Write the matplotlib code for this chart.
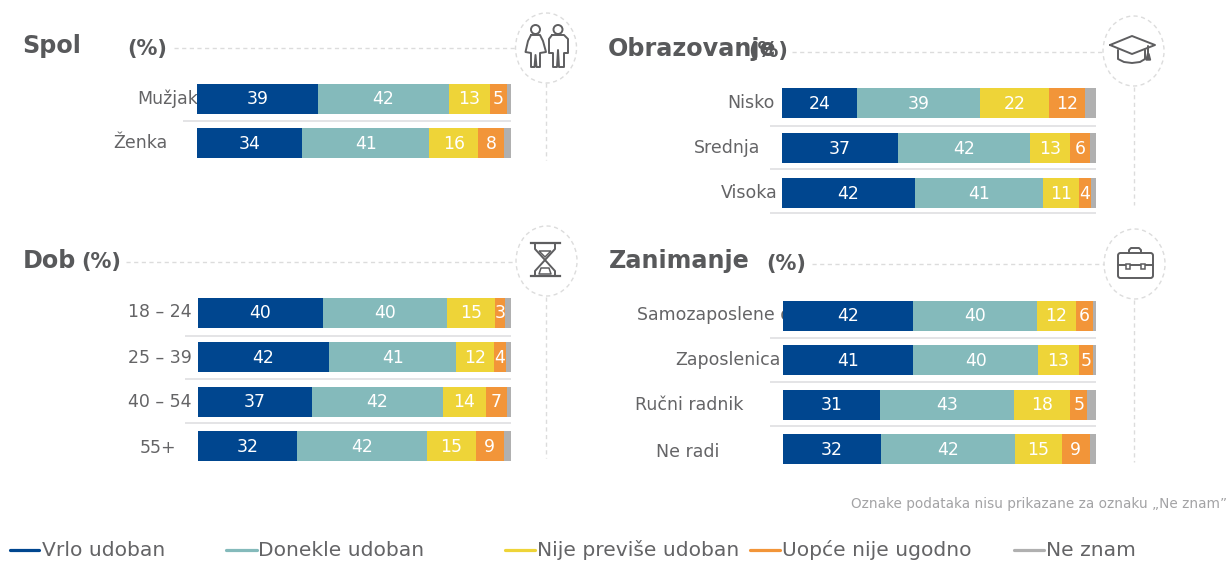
import matplotlib
matplotlib.use("Agg")
import matplotlib.pyplot as plt
from matplotlib.patches import Circle, Ellipse, Polygon, FancyBboxPatch, Arc, Rectangle

W, H = 1227, 561
series = ["Vrlo udoban", "Donekle udoban", "Nije previše udoban", "Uopće nije ugodno", "Ne znam"]
colors = ["#00468F", "#84BABB", "#EED438", "#F29539", "#B0B0B0"]

spol_cats = ["Mužjak", "Ženka"]
spol_vals = [[38.5, 41.8, 12.9, 5.4, 1.4], [33.5, 40.5, 15.6, 8.3, 2.1]]
spol_labs = [[39, 42, 13, 5], [34, 41, 16, 8]]
obr_cats = ["Nisko", "Srednja", "Visoka"]
obr_vals = [[23.9, 39.3, 21.9, 11.7, 3.2], [36.9, 42.1, 13.0, 6.2, 1.8], [42.3, 41.1, 11.2, 4.1, 1.3]]
obr_labs = [[24, 39, 22, 12], [37, 42, 13, 6], [42, 41, 11, 4]]
dob_cats = ["18 – 24", "25 – 39", "40 – 54", "55+"]
dob_vals = [[40.0, 39.5, 15.5, 3.2, 1.8], [42.0, 40.5, 12.0, 3.8, 1.7], [36.5, 41.7, 13.9, 6.6, 1.3], [31.7, 41.5, 15.5, 9.0, 2.3]]
dob_labs = [[40, 40, 15, 3], [42, 41, 12, 4], [37, 42, 14, 7], [32, 42, 15, 9]]
zan_cats = ["Samozaposlene o", "Zaposlenica", "Ručni radnik", "Ne radi"]
zan_vals = [[41.5, 39.7, 12.3, 5.6, 0.9], [41.5, 40.1, 12.9, 4.6, 0.9], [30.9, 42.8, 18.1, 5.3, 2.9], [31.4, 42.7, 14.9, 9.1, 1.9]]
zan_labs = [[42, 40, 12, 6], [41, 40, 13, 5], [31, 43, 18, 5], [32, 42, 15, 9]]

TXT = "#646466"
DASH = "#DCDCDC"
ICON = "#5E5E60"
plt.rcParams["font.family"] = ["DejaVu Sans"]

fig = plt.figure(figsize=(W / 100, H / 100), dpi=100, facecolor="white")
bg = fig.add_axes([0, 0, 1, 1], zorder=0)
bg.set_xlim(0, W); bg.set_ylim(H, 0); bg.axis("off")


def panel(cats, vals, labs, x0, x1, ys, label_x, label_dy, sep_x0, seps):
    barh = 30.0
    step = ys[1] - ys[0]
    top = ys[0] - step / 2
    n = len(cats)
    ax = fig.add_axes([x0 / W, 1 - (top + step * n) / H, (x1 - x0) / W, step * n / H], zorder=2)
    ax.patch.set_alpha(0)
    ax.axis("off")
    ax.set_xlim(0, 100)
    ax.set_ylim(n - 0.5, -0.5)
    hfrac = barh / step
    for i, row in enumerate(vals):
        left = 0
        for j, v in enumerate(row):
            ax.barh(i, v, left=left, height=hfrac, color=colors[j], linewidth=0)
            if j < len(labs[i]):
                ax.text(left + v / 2, i + 0.02, str(labs[i][j]), color="white", fontsize=12.4,
                        ha="center", va="center")
            left += v
    for c, lx, y, dy in zip(cats, label_x, ys, label_dy):
        bg.text(lx, y + dy, c, color=TXT, fontsize=12.55, ha="right", va="center")
    for y in seps:
        bg.plot([sep_x0, x1], [y, y], color="#E2E2E4", lw=1.3, solid_capstyle="butt")


panel(spol_cats, spol_vals, spol_labs, 197, 511, [98.5, 143], [198, 167], [0, 0], 183, [121])
panel(obr_cats, obr_vals, obr_labs, 782, 1095.5, [103, 148, 192], [775, 760, 778], [0, 0, 1], 770, [125.5, 169, 212.5])
panel(dob_cats, dob_vals, dob_labs, 197.5, 511, [312.5, 357, 401.5, 446], [191.5, 191.5, 191.5, 176], [-0.5, 1, 0, 2], 185, [335.5, 379, 422.5])
panel(zan_cats, zan_vals, zan_labs, 783, 1096, [315.5, 360, 404.5, 449], [791, 781, 743, 719], [-1, 0, 0, 3], 770, [337.5, 381.5, 425.5])

# titles
for s, x, y in [("Spol", 22, 46), ("Obrazovanje", 608, 49), ("Dob", 23, 261), ("Zanimanje", 609, 261)]:
    bg.text(x, y, s, color="#58595B", fontsize=17.2, fontweight="bold", ha="left", va="center")
for x, y in [(127, 48.5), (748, 50.5), (81.5, 262), (766, 263.5)]:
    bg.text(x, y, "(%)", color="#58595B", fontsize=15, fontweight="bold", ha="left", va="center")

# dashed leaders and icon rings
dash = dict(color=DASH, lw=1, dashes=(3, 2.5))
for xa, xb, y in [(174, 516, 48), (792, 1103, 51.5), (126, 515, 262), (812, 1104, 263.5)]:
    bg.plot([xa, xb], [y, y], **dash)
for x, ya, yb in [(546, 83, 160), (1134, 87, 205), (546, 297, 458), (1134, 300, 462)]:
    bg.plot([x, x], [ya, yb], **dash)
for cx, cy in [(546, 48), (1133.5, 51), (546.5, 261), (1134.5, 264)]:
    bg.add_patch(Ellipse((cx, cy), 61, 70, fill=False, ec=DASH, lw=1, ls=(0, (3, 2.5))))

ik = dict(color=ICON, lw=1.4, solid_capstyle="round", solid_joinstyle="round")
# people
bg.add_patch(Circle((535.5, 29.5), 4.5, fill=False, ec=ICON, lw=1.4))
bg.plot([531, 540, 543, 546, 540, 540, 536.5, 535.5, 534.5, 531, 531, 525.5, 528, 531],
        [35, 35, 41, 52, 53, 67, 67, 55, 67, 67, 53, 52, 41, 35], **ik)
bg.add_patch(Circle((558, 29.5), 4.5, fill=False, ec=ICON, lw=1.4))
bg.plot([552, 564, 568, 568, 564, 564, 559, 558, 557, 553, 553, 549, 549, 552],
        [35, 35, 39, 53, 53, 67, 67, 50, 67, 67, 53, 53, 39, 35], **ik)
# graduation cap
bg.plot([1110, 1132, 1155, 1132, 1110], [45, 36, 45, 54, 45], **ik)
bg.plot([1118, 1118, 1124, 1132, 1140, 1145, 1145], [50, 59, 62, 63, 62, 59, 50], **ik)
bg.plot([1148, 1148], [46, 55], **ik)
bg.add_patch(Polygon([[1146, 60], [1150.5, 60], [1149, 54], [1147.5, 54]], color=ICON))
# hourglass
bg.plot([531, 560], [243, 243], color=ICON, lw=1.6)
bg.plot([531, 560], [276, 276], color=ICON, lw=1.6)
bg.plot([535, 535, 545, 535, 535], [244, 249, 260, 271, 276], **ik)
bg.plot([555, 555, 545, 555, 555], [244, 249, 260, 271, 276], **ik)
bg.add_patch(Polygon([[539, 251], [551, 251], [545, 257]], fill=False, ec=ICON, lw=1.1))
bg.add_patch(Polygon([[539, 274], [551, 274], [549, 268], [541, 268]], fill=False, ec=ICON, lw=1.1, joinstyle="round"))
# briefcase
bg.add_patch(FancyBboxPatch((1118, 253), 35, 25, boxstyle="round,pad=0,rounding_size=2.5", fill=False, ec=ICON, lw=1.4))
bg.plot([1118, 1153], [265, 265], **ik)
bg.plot([1129, 1129, 1131, 1139, 1141, 1141], [253, 250, 248, 248, 250, 253], **ik)
bg.add_patch(Rectangle((1125.5, 264), 4.5, 4.5, fc="white", ec=ICON, lw=1.1, zorder=3))
bg.add_patch(Rectangle((1140.5, 264), 4.5, 4.5, fc="white", ec=ICON, lw=1.1, zorder=3))

bg.text(1227, 503.5, "Oznake podataka nisu prikazane za oznaku „Ne znam”", color="#A3A3A5", fontsize=9.8,
        ha="right", va="center")

# legend
for name, c, xa, xb, xt in zip(series, colors, [10, 226, 505, 750, 1014], [39, 257, 535, 780, 1044], [42, 258, 537, 782, 1046]):
    bg.plot([xa, xb], [550, 550], color=c, lw=2.3, solid_capstyle="round")
    bg.text(xt, 550, name, color=TXT, fontsize=14.6, ha="left", va="center")

fig.savefig("out.png", dpi=100)
